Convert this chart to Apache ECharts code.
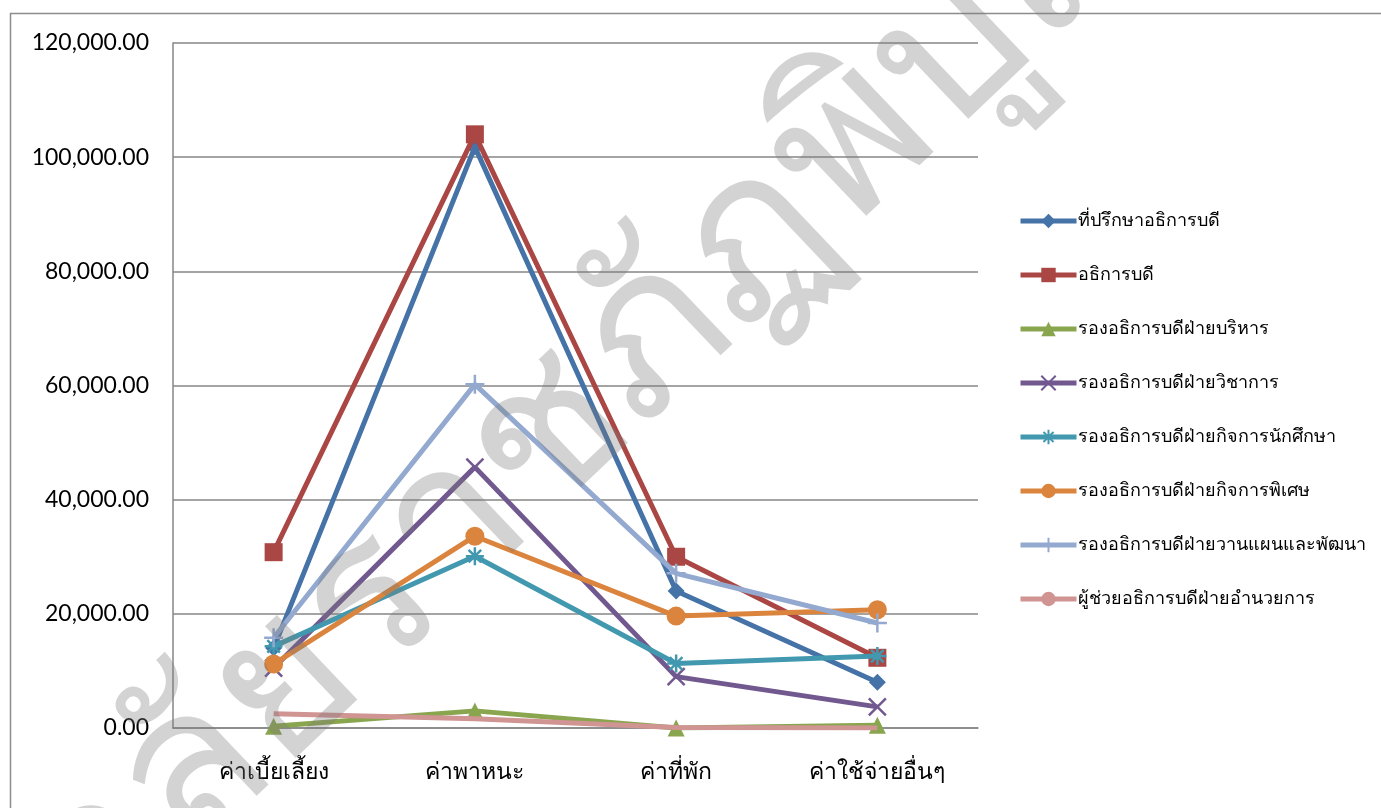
<!DOCTYPE html>
<html><head><meta charset="utf-8">
<script src="https://cdn.jsdelivr.net/npm/echarts@6/dist/echarts.min.js"></script>
<style>html,body{margin:0;padding:0;background:#fff}#c{width:1381px;height:808px}</style>
</head><body><div id="c"></div>
<script>
var categories = ['ค่าเบี้ยเลี้ยง', 'ค่าพาหนะ', 'ค่าที่พัก', 'ค่าใช้จ่ายอื่นๆ'];
var seriesNames = ['ที่ปรึกษาอธิการบดี','อธิการบดี','รองอธิการบดีฝ่ายบริหาร','รองอธิการบดีฝ่ายวิชาการ','รองอธิการบดีฝ่ายกิจการนักศึกษา','รองอธิการบดีฝ่ายกิจการพิเศษ','รองอธิการบดีฝ่ายวานแผนและพัฒนา','ผู้ช่วยอธิการบดีฝ่ายอำนวยการ'];
var advisor = [14000, 101800, 24000, 8000];
var president = [30800, 104000, 30000, 12300];
var viceAdmin = [300, 3000, 0, 500];
var viceAcademic = [10500, 45700, 9000, 3700];
var viceStudent = [14300, 30100, 11300, 12600];
var viceSpecial = [11200, 33600, 19600, 20700];
var vicePlanning = [15800, 60200, 27100, 18400];
var assistant = [2500, 1600, 100, 0];
var yTicks = [0, 20000, 40000, 60000, 80000, 100000, 120000];
var watermark = 'มหาวิทยาลัยราชภัฏพิบูลสงคราม';

var values = [advisor, president, viceAdmin, viceAcademic, viceStudent, viceSpecial, vicePlanning, assistant];
var colors = ['#4572A7','#AA4643','#89A54E','#71588F','#4198AF','#DB843D','#93A9CF','#D09493'];
var asterisk = 'path://M10 0 L10 20 M0 10 L20 10 M3 3 L17 17 M17 3 L3 17';
var plus = 'path://M10 0 L10 20 M2 10 L18 10';
var xMark = 'path://M0 0 L20 20 M20 0 L0 20';
var symbols = ['diamond','rect','triangle', xMark, asterisk, 'circle', plus, 'none'];
var sizes = [17, 18, 17, 17, 18, 19, 19, 0];
var strokeSym = [false,false,false,true,true,false,true,false];

var series = values.map(function(v, i){
  return {
    name: seriesNames[i], type: 'line', data: v,
    symbol: symbols[i], symbolSize: sizes[i], showSymbol: symbols[i] !== 'none',
    lineStyle: {width: 5, color: colors[i]},
    itemStyle: strokeSym[i] ? {color: 'rgba(0,0,0,0)', borderColor: colors[i], borderWidth: 2.5} : {color: colors[i], borderWidth: 0},
    emphasis: {disabled: true},
    z: 2 + i
  };
});

var thaiFont = 'Noto Sans, DejaVu Sans, sans-serif';
var chart = echarts.init(document.getElementById('c'), null, {renderer: 'canvas'});
chart.setOption({
  animation: false,
  backgroundColor: '#fff',
  grid: {left: 173, right: 403, top: 43, bottom: 80},
  xAxis: {
    type: 'category', data: categories, boundaryGap: true,
    axisLine: {lineStyle: {color: '#868686', width: 1.5}},
    axisTick: {show: false},
    axisLabel: {color: '#000', fontSize: 23, fontFamily: thaiFont, margin: 33}
  },
  yAxis: {
    type: 'value', min: 0, max: 120000, interval: 20000,
    axisLine: {show: true, lineStyle: {color: '#868686', width: 1.5}},
    axisTick: {show: false},
    splitLine: {lineStyle: {color: '#868686', width: 1.5}},
    axisLabel: {color: '#000', fontSize: 23, fontFamily: 'Lato, Carlito, sans-serif', margin: 24,
      formatter: function(v){ return v.toLocaleString('en-US', {minimumFractionDigits: 2, maximumFractionDigits: 2}); }}
  },
  legend: {
    orient: 'vertical', left: 1018, top: 212, padding: 0, itemGap: 36, itemWidth: 56, itemHeight: 18,
    lineStyle: {width: 5},
    textStyle: {fontSize: 18, color: '#000', fontFamily: thaiFont, padding: [0,0,0,-4]},
    data: seriesNames
  },
  graphic: [
    {type: 'rect', shape: {x: 10.5, y: 13.5, width: 1400, height: 820}, style: {fill: 'none', stroke: '#8c8c8c', lineWidth: 1.5}, z: 0, silent: true},
    {type: 'text', x: 565, y: 420, rotation: 0.76, z: 100, silent: true,
     style: {text: watermark, fontSize: 210, fontFamily: thaiFont,
       fill: 'rgba(120,120,120,0.33)', align: 'center', verticalAlign: 'middle'}}
  ],
  series: series
});
</script></body></html>
